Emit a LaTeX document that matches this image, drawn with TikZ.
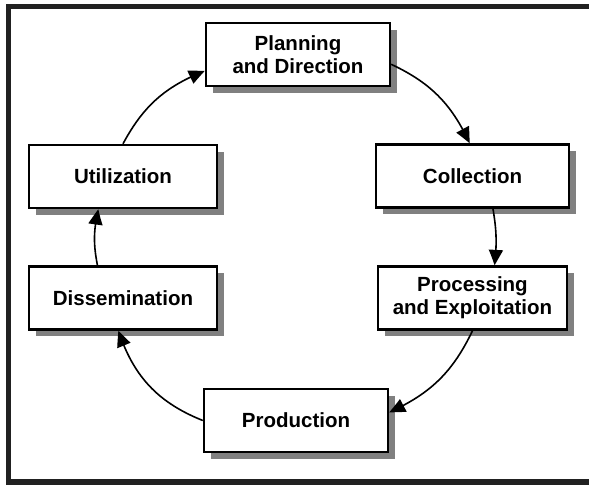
\documentclass[tikz,border=0pt]{standalone}
\usepackage{fontspec}
\setmainfont{Liberation Sans}
\usetikzlibrary{arrows.meta}
\usetikzlibrary{bending}
\usetikzlibrary{shadows}

\begin{document}
\begin{tikzpicture}[x=1pt,y=1pt,
% filled arrow heads for all connectors
-{Triangle[bend,length=16pt,width=14pt]},line width=1.6pt,
stage/.style={draw=black,line width=2.4pt,fill=white,
  minimum width=186pt,minimum height=63pt,align=center,
  font=\bfseries\fontsize{20.5}{23}\selectfont,
  drop shadow={shadow xshift=7pt,shadow yshift=-7pt,fill=black!50,opacity=1}}]

\useasboundingbox (0,0) rectangle (589,485);
\draw[-,line width=5.5pt,black!87] (8.5,3) rectangle (610,478.5);

\node[stage,minimum width=184pt] (plan) at (298,430.5) {Planning\\and Direction};
\node[stage,minimum width=193pt] (coll) at (472.5,309) {Collection};
\node[stage,minimum width=189pt] (proc) at (472.5,187) {Processing\\and Exploitation};
\node[stage,minimum width=184pt] (prod) at (296,64.5) {Production};
\node[stage,minimum width=188pt] (diss) at (123,187) {Dissemination};
\node[stage,minimum width=188pt] (util) at (123,308.5) {Utilization};

\draw (plan.-6) to[bend left=20] (coll.95);
\draw (coll.-58) to[bend left=8] (proc.56);
\draw (proc.south) to[bend left=20] (prod.5);
\draw (prod.west) to[bend left=25] (diss.262);
\draw (diss.128) to[bend left=12] (util.233);
\draw (util.north) to[bend left=20] (plan.190);
\end{tikzpicture}
\end{document}
